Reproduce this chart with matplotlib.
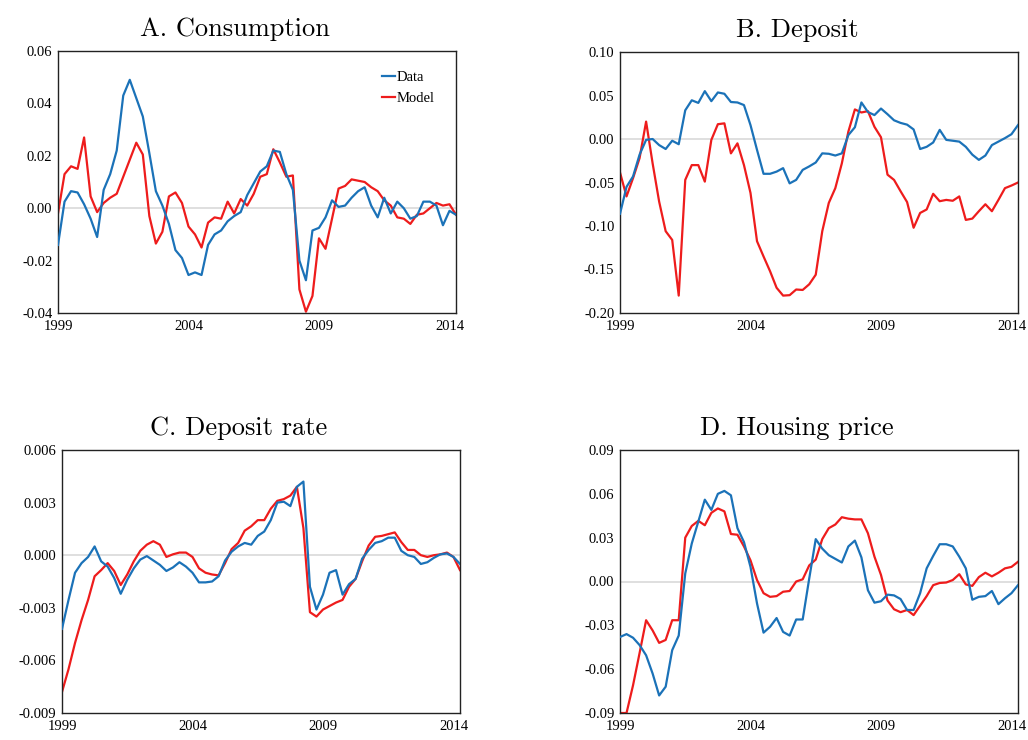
import numpy as np
import matplotlib
matplotlib.use("Agg")
from matplotlib import pyplot as plt
from matplotlib.ticker import FuncFormatter

plt.rcParams['font.family'] = 'Liberation Serif'
plt.rcParams['axes.unicode_minus'] = False

# quarterly, 1999Q1 .. 2014Q2
years = ['1999', '2004', '2009', '2014']
tick_pos = [0, 20, 40, 60]

cons_data = [-0.014, 0.0025, 0.0065, 0.006, 0.0015, -0.004, -0.011, 0.007, 0.013, 0.022,
             0.043, 0.049, 0.042, 0.035, 0.021, 0.0065, 0.001, -0.006, -0.016, -0.019,
             -0.0255, -0.0245, -0.0255, -0.014, -0.010, -0.0085, -0.005, -0.003, -0.0015, 0.005,
             0.0095, 0.014, 0.016, 0.022, 0.0215, 0.013, 0.007, -0.020, -0.0275, -0.0085,
             -0.0075, -0.0035, 0.003, 0.0005, 0.001, 0.004, 0.0065, 0.008, 0.001, -0.0035,
             0.004, -0.002, 0.0025, 0.0, -0.004, -0.003, 0.0025, 0.0025, 0.001, -0.0065,
             -0.001, -0.0025]
cons_model = [-0.002, 0.013, 0.016, 0.015, 0.027, 0.0045, -0.0015, 0.002, 0.004, 0.0055,
              0.012, 0.0185, 0.025, 0.0205, -0.003, -0.0135, -0.009, 0.0045, 0.006, 0.002,
              -0.007, -0.010, -0.015, -0.0055, -0.0035, -0.004, 0.0025, -0.002, 0.0035, 0.001,
              0.0055, 0.012, 0.013, 0.0225, 0.0175, 0.012, 0.0125, -0.031, -0.0395, -0.0335,
              -0.0115, -0.0155, -0.004, 0.0075, 0.0085, 0.011, 0.0105, 0.010, 0.008, 0.0065,
              0.003, 0.001, -0.0035, -0.004, -0.006, -0.0025, -0.002, 0.0, 0.002, 0.001,
              0.0015, -0.0025]

dep_data = [-0.086, -0.055, -0.043, -0.018, -0.001, 0.0, -0.007, -0.0115, -0.002, -0.006,
            0.033, 0.0445, 0.0415, 0.055, 0.0435, 0.0535, 0.052, 0.0425, 0.042, 0.039,
            0.016, -0.0125, -0.040, -0.040, -0.0375, -0.0335, -0.051, -0.047, -0.0355, -0.0315,
            -0.027, -0.0165, -0.017, -0.019, -0.0165, 0.0045, 0.0135, 0.042, 0.031, 0.0275,
            0.035, 0.0285, 0.0215, 0.0185, 0.0165, 0.011, -0.0115, -0.009, -0.004, 0.0105,
            -0.001, -0.002, -0.003, -0.009, -0.018, -0.024, -0.019, -0.007, -0.003, 0.001,
            0.0055, 0.016]
dep_model = [-0.0385, -0.066, -0.045, -0.022, 0.020, -0.028, -0.072, -0.106, -0.116, -0.180,
             -0.047, -0.030, -0.030, -0.049, -0.001, 0.017, 0.018, -0.0165, -0.005, -0.030,
             -0.062, -0.1175, -0.135, -0.152, -0.171, -0.180, -0.1795, -0.173, -0.1735, -0.167,
             -0.156, -0.106, -0.0735, -0.0565, -0.028, 0.0085, 0.034, 0.0305, 0.032, 0.014,
             0.002, -0.041, -0.047, -0.060, -0.0725, -0.102, -0.085, -0.081, -0.063, -0.0715,
             -0.070, -0.071, -0.066, -0.093, -0.0915, -0.083, -0.075, -0.083, -0.070, -0.0565,
             -0.0535, -0.050]

rate_data = [-0.0042, -0.00255, -0.001, -0.00045, -0.0001, 0.0005, -0.00035, -0.00065, -0.0013, -0.0022,
             -0.0014, -0.00075, -0.00025, -0.00005, -0.0003, -0.00055, -0.0009, -0.0007, -0.0004, -0.00065,
             -0.001, -0.00155, -0.00155, -0.0015, -0.0012, -0.0003, 0.0002, 0.0005, 0.0007, 0.0006,
             0.0011, 0.00135, 0.002, 0.003, 0.00305, 0.0028, 0.0039, 0.0042, -0.0018, -0.0031,
             -0.00225, -0.001, -0.00085, -0.00225, -0.00165, -0.00135, -0.0002, 0.0003, 0.0007, 0.0008,
             0.001, 0.001, 0.00025, 0.0, -0.0001, -0.0005, -0.0004, -0.00015, 0.00005, 0.0001,
             -0.0001, -0.0005]
rate_model = [-0.0078, -0.0065, -0.005, -0.0037, -0.00255, -0.0012, -0.00085, -0.00045, -0.0009, -0.0017,
              -0.0011, -0.00035, 0.00025, 0.0006, 0.0008, 0.0006, -0.0001, 0.00005, 0.00015, 0.00015,
              -0.0001, -0.00075, -0.001, -0.0011, -0.00115, -0.00045, 0.00035, 0.0007, 0.0014, 0.00165,
              0.002, 0.002, 0.00265, 0.0031, 0.0032, 0.0034, 0.0039, 0.00155, -0.00325, -0.0035,
              -0.0031, -0.0029, -0.0027, -0.00255, -0.0018, -0.00135, -0.00035, 0.00055, 0.00105, 0.0011,
              0.0012, 0.0013, 0.00075, 0.0003, 0.0003, 0.0, -0.0001, 0.0, 0.00005, 0.00015,
              -0.0001, -0.00085]

house_data = [-0.038, -0.036, -0.0385, -0.0435, -0.0505, -0.063, -0.078, -0.072, -0.047, -0.037,
              0.0055, 0.026, 0.041, 0.056, 0.049, 0.060, 0.062, 0.059, 0.0365, 0.027,
              0.010, -0.015, -0.035, -0.031, -0.025, -0.0345, -0.037, -0.026, -0.026, 0.002,
              0.029, 0.0225, 0.018, 0.0155, 0.013, 0.024, 0.028, 0.0165, -0.006, -0.0145,
              -0.0135, -0.009, -0.0095, -0.012, -0.0195, -0.0195, -0.008, 0.009, 0.0175, 0.0255,
              0.0255, 0.024, 0.017, 0.009, -0.0125, -0.0105, -0.010, -0.0065, -0.0155, -0.0115,
              -0.008, -0.0025]
house_model = [-0.090, -0.090, -0.071, -0.049, -0.0265, -0.0335, -0.042, -0.040, -0.0265, -0.0265,
               0.030, 0.038, 0.0415, 0.0385, 0.047, 0.050, 0.048, 0.0325, 0.032, 0.024,
               0.0145, 0.001, -0.008, -0.0105, -0.010, -0.007, -0.0065, 0.0, 0.0015, 0.011,
               0.015, 0.029, 0.0365, 0.039, 0.044, 0.043, 0.0425, 0.0425, 0.033, 0.017,
               0.0045, -0.013, -0.019, -0.021, -0.0195, -0.023, -0.0165, -0.010, -0.0025, -0.001,
               -0.0007, 0.001, 0.005, -0.002, -0.003, 0.003, 0.006, 0.0035, 0.006, 0.009,
               0.010, 0.0135]

panels = [
    ("A. Consumption", cons_data, cons_model, (-0.04, 0.06), np.arange(-0.04, 0.061, 0.02), 2),
    ("B. Deposit", dep_data, dep_model, (-0.20, 0.10), np.arange(-0.20, 0.101, 0.05), 2),
    ("C. Deposit rate", rate_data, rate_model, (-0.009, 0.006), np.arange(-0.009, 0.0061, 0.003), 3),
    ("D. Housing price", house_data, house_model, (-0.09, 0.09), np.arange(-0.09, 0.091, 0.03), 2),
]

# axes rectangles in pixels: left, right, top, bottom
W, H = 1028, 740
boxes = [(58, 456, 51, 313), (620, 1018, 52, 313), (62, 460, 450, 713), (620, 1018, 450, 713)]

blue = '#1B72B8'
red = '#EE1C1C'

fig = plt.figure(figsize=(W / 100, H / 100), dpi=100)
for (title, d, m, ylim, ticks, nd), (l, r, t, b) in zip(panels, boxes):
    ax = fig.add_axes([l / W, 1 - b / H, (r - l) / W, (b - t) / H])
    x = np.arange(len(d))
    ax.axhline(0, color='#D9D9D9', lw=1.2, zorder=1)
    ax.plot(x, d, color=blue, lw=1.6, label='Data', zorder=3)
    ax.plot(x, m, color=red, lw=1.6, label='Model', zorder=2)
    ax.set_xlim(0, len(d) - 1)
    ax.set_ylim(*ylim)
    ax.set_yticks(ticks)
    ax.yaxis.set_major_formatter(FuncFormatter(lambda v, p, nd=nd: f"{v:.{nd}f}".replace("-0." + "0" * nd, "0." + "0" * nd)))
    ax.set_xticks(tick_pos)
    ax.set_xticklabels(years)
    ax.tick_params(length=0, labelsize=10.5, pad=4)
    ax.tick_params(axis='x', pad=5)
    for s in ax.spines.values():
        s.set_linewidth(1.0)
        s.set_color('#222222')
    # title centred over the panel including its tick labels
    ax.set_title(title, family='cmr10', fontsize=19, pad=11, x=0.5 - 22 / (r - l))
    if title.startswith("A"):
        ax.legend(loc='upper right', frameon=False, fontsize=10.5, handlelength=0.9,
                  handletextpad=0.1, labelspacing=0.55, bbox_to_anchor=(0.98, 0.975))

plt.savefig('out.png', dpi=100)
